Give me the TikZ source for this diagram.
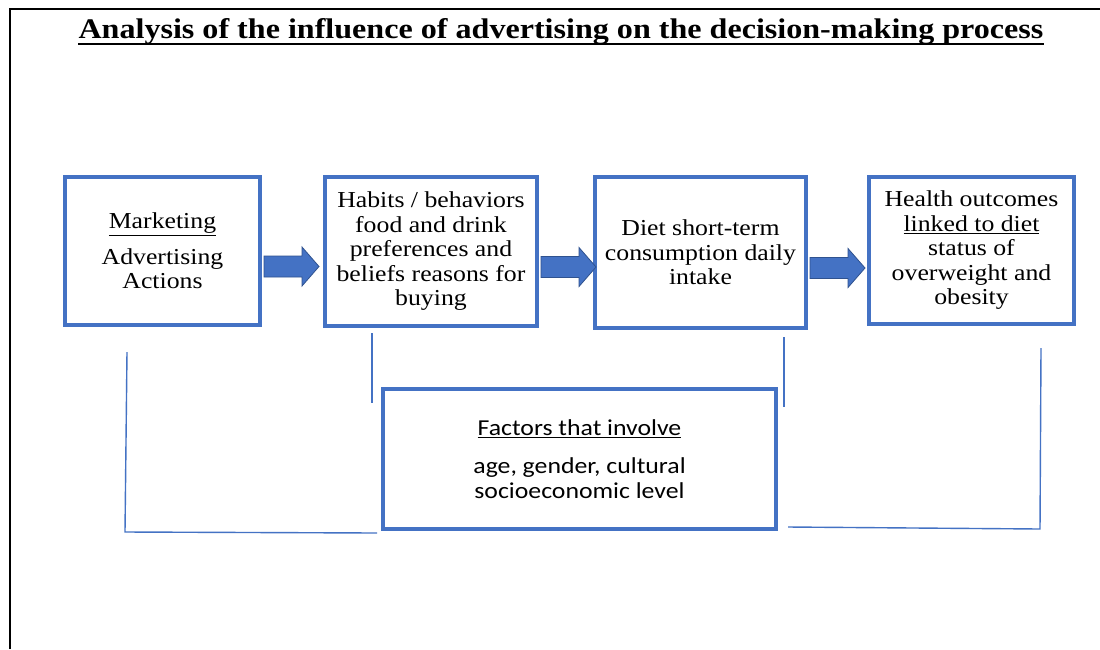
\documentclass[tikz,border=0pt]{standalone}
\usepackage{fontspec}
\setmainfont[FakeStretch=1.13]{Liberation Serif}
\newfontfamily\facfont[FakeStretch=1.13]{Carlito}
\usetikzlibrary{calc}
\definecolor{boxblue}{HTML}{4472C4}
\definecolor{arrowedge}{HTML}{2F528F}
\definecolor{linkblue}{HTML}{4472C4}
\newcommand\blockarrow[1]{\draw[blockarr] (#1.east) ++(2,5) -- ++(38,0) -- ++(0,-9) -- ++(17,19.5) -- ++(-17,19.5) -- ++(0,-9) -- ++(-38,0) -- cycle;}
\begin{document}
\begin{tikzpicture}[x=1pt,y=-1pt,
  box/.style={draw=boxblue, line width=4pt, fill=white, inner sep=0pt, align=center, font=\fontsize{22.8}{24.5}\selectfont},
  facbox/.style={box, font=\facfont\fontsize{22.8}{25}\selectfont},
  blockarr/.style={fill=boxblue, draw=arrowedge, line width=0.8pt},
  link/.style={draw=linkblue, line width=1.4pt},
  frameline/.style={draw=black, line width=2.2pt},
  titlefont/.style={font=\bfseries\fontsize{28.4}{32}\selectfont}]
\useasboundingbox (0,0) rectangle (1100,649);
\fill[white] (0,0) rectangle (1100,649);
\draw[frameline] (10,649) -- (10,9) -- (1100,9);
\node[titlefont, anchor=base, inner sep=0pt] (title) at (561,38) {Analysis of the influence of advertising on the decision-making process};
\draw[line width=2pt] ($(title.base west)+(0,6)$) -- ($(title.base east)+(0,6)$);

\node[box, minimum width=195, minimum height=148] (b1) at (162.5,251) {\underline{Marketing}\\[11pt]Advertising\\Actions};
\node[box, minimum width=212, minimum height=149] (b2) at (431,251.5) {\raisebox{-2pt}{\parbox{200pt}{\centering Habits / behaviors\\food and drink\\preferences and\\beliefs reasons for\\buying}}};
\node[box, minimum width=211, minimum height=151] (b3) at (700.5,252.5) {Diet short-term\\consumption daily\\intake};
\node[box, minimum width=205, minimum height=147] (b4) at (971.5,250.5) {\raisebox{-2pt}{\parbox{200pt}{\centering Health outcomes\\\underline{linked to diet}\\status of\\overweight and\\obesity}}};
\node[facbox, minimum width=393, minimum height=140] (fac) at (579.5,459) {\underline{Factors that involve}\\[13pt]age, gender, cultural\\socioeconomic level};

\blockarrow{b1}
\blockarrow{b2}
\blockarrow{b3}

\coordinate (l1) at (127,352);
\coordinate (l2) at (125,532);
\coordinate (l3) at (377,533);
\coordinate (s1) at (372,333);
\coordinate (s2) at (372,403);
\coordinate (s3) at (784,337);
\coordinate (s4) at (784,407);
\coordinate (r1) at (788,527);
\coordinate (r2) at (1040,529);
\coordinate (r3) at (1041,348);
\draw[link] (l1) -- (l2) -- (l3);
\draw[link] (s1) -- (s2);
\draw[link] (s3) -- (s4);
\draw[link] (r1) -- (r2) -- (r3);
\end{tikzpicture}
\end{document}
